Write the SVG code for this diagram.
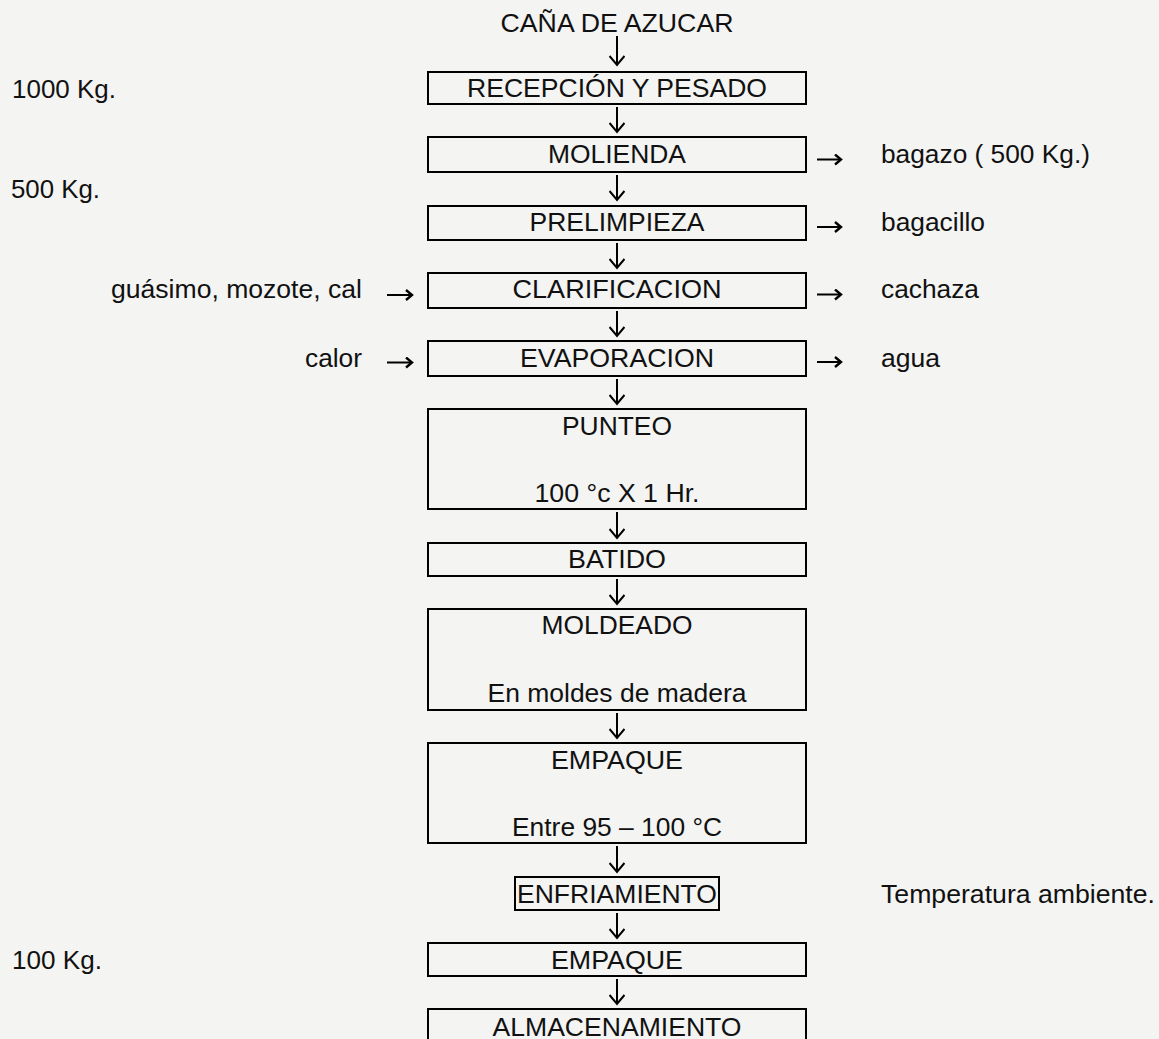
<svg xmlns="http://www.w3.org/2000/svg" width="1159" height="1039" viewBox="0 0 1159 1039">
<defs>
<style>
.box{fill:none;stroke:#000;stroke-width:2}
.t{font-family:"Liberation Sans",Arial,sans-serif;font-size:25.5px;fill:#111}
.c{text-anchor:middle}
.l{font-family:"Liberation Sans",Arial,sans-serif;font-size:26px;fill:#111}
.ar{fill:none;stroke:#000;stroke-width:2;marker-end:url(#ah)}
.ars{fill:none;stroke:#000;stroke-width:2;marker-end:url(#ahs)}
</style>
<marker id="ah" viewBox="0 0 16 16" refX="14" refY="8" markerWidth="16" markerHeight="16" markerUnits="userSpaceOnUse" orient="auto">
<path d="M5,0.5 L14,8 L5,15.5" fill="none" stroke="#000" stroke-width="2"/>
</marker>
<marker id="ahs" viewBox="0 0 12 12" refX="10" refY="6" markerWidth="12" markerHeight="12" markerUnits="userSpaceOnUse" orient="auto">
<path d="M4,1 L10,6 L4,11" fill="none" stroke="#000" stroke-width="2.4"/>
</marker>
</defs>
<rect width="1159" height="1039" fill="#f4f4f3"/>

<g id="input">
<text class="t c" x="617" y="32" textLength="233" lengthAdjust="spacingAndGlyphs">CAÑA DE AZUCAR</text>
</g>
<g id="recepcion">
<rect class="box" x="428" y="72" width="378" height="32"/>
<text class="t c" x="617" y="96.5" textLength="300" lengthAdjust="spacingAndGlyphs">RECEPCIÓN Y PESADO</text>
</g>
<g id="molienda">
<rect class="box" x="428" y="137" width="378" height="35"/>
<text class="t c" x="617" y="163.3" textLength="138" lengthAdjust="spacingAndGlyphs">MOLIENDA</text>
</g>
<g id="prelimpieza">
<rect class="box" x="428" y="206" width="378" height="34"/>
<text class="t c" x="617" y="230.7" textLength="175" lengthAdjust="spacingAndGlyphs">PRELIMPIEZA</text>
</g>
<g id="clarificacion">
<rect class="box" x="428" y="273" width="378" height="35"/>
<text class="t c" x="617" y="298.3" textLength="209" lengthAdjust="spacingAndGlyphs">CLARIFICACION</text>
</g>
<g id="evaporacion">
<rect class="box" x="428" y="341" width="378" height="35"/>
<text class="t c" x="617" y="366.7" textLength="194" lengthAdjust="spacingAndGlyphs">EVAPORACION</text>
</g>
<g id="punteo">
<rect class="box" x="428" y="409" width="378" height="100"/>
<text class="t c" x="617" y="435" textLength="110" lengthAdjust="spacingAndGlyphs">PUNTEO</text>
<text class="t c" x="617" y="501.5" textLength="165" lengthAdjust="spacingAndGlyphs">100 °c X 1 Hr.</text>
</g>
<g id="batido">
<rect class="box" x="428" y="543" width="378" height="33"/>
<text class="t c" x="617" y="568.3" textLength="98" lengthAdjust="spacingAndGlyphs">BATIDO</text>
</g>
<g id="moldeado">
<rect class="box" x="428" y="609" width="378" height="101"/>
<text class="t c" x="617" y="634.3" textLength="151" lengthAdjust="spacingAndGlyphs">MOLDEADO</text>
<text class="t c" x="617" y="702.3" textLength="259" lengthAdjust="spacingAndGlyphs">En moldes de madera</text>
</g>
<g id="empaque1">
<rect class="box" x="428" y="743" width="378" height="100"/>
<text class="t c" x="617" y="768.5" textLength="132" lengthAdjust="spacingAndGlyphs">EMPAQUE</text>
<text class="t c" x="617" y="836" textLength="210" lengthAdjust="spacingAndGlyphs">Entre 95 – 100 °C</text>
</g>
<g id="enfriamiento">
<rect class="box" x="515" y="877" width="204" height="33"/>
<text class="t c" x="617" y="902.7" textLength="200" lengthAdjust="spacingAndGlyphs">ENFRIAMIENTO</text>
</g>
<g id="empaque2">
<rect class="box" x="428" y="943" width="378" height="33"/>
<text class="t c" x="617" y="969" textLength="132" lengthAdjust="spacingAndGlyphs">EMPAQUE</text>
</g>
<g id="almacenamiento">
<rect class="box" x="428" y="1009" width="378" height="45"/>
<text class="t c" x="617" y="1036" textLength="249" lengthAdjust="spacingAndGlyphs">ALMACENAMIENTO</text>
</g>

<g id="labels">
<text class="l" x="12" y="97.5" textLength="104" lengthAdjust="spacingAndGlyphs">1000 Kg.</text>
<text class="l" x="11" y="197.7" textLength="89" lengthAdjust="spacingAndGlyphs">500 Kg.</text>
<text class="l" x="12" y="969" textLength="90" lengthAdjust="spacingAndGlyphs">100 Kg.</text>
<text class="t" x="111" y="298.3" textLength="251" lengthAdjust="spacingAndGlyphs">guásimo, mozote, cal</text>
<text class="t" x="305" y="366.7" textLength="57" lengthAdjust="spacingAndGlyphs">calor</text>
<text class="t" x="881" y="163.3" textLength="209" lengthAdjust="spacingAndGlyphs">bagazo ( 500 Kg.)</text>
<text class="t" x="881" y="230.7" textLength="104" lengthAdjust="spacingAndGlyphs">bagacillo</text>
<text class="t" x="881" y="298.3" textLength="98" lengthAdjust="spacingAndGlyphs">cachaza</text>
<text class="t" x="881" y="366.7" textLength="59" lengthAdjust="spacingAndGlyphs">agua</text>
<text class="t" x="881" y="902.7" textLength="274" lengthAdjust="spacingAndGlyphs">Temperatura ambiente.</text>
</g>

<g id="connectors">
<path class="ar" d="M617,36 V65"/>
<path class="ar" d="M617,107 V132"/>
<path class="ar" d="M617,175 V200"/>
<path class="ar" d="M617,243 V268"/>
<path class="ar" d="M617,311 V336"/>
<path class="ar" d="M617,379 V404"/>
<path class="ar" d="M617,512 V538"/>
<path class="ar" d="M617,579 V604"/>
<path class="ar" d="M617,713 V738"/>
<path class="ar" d="M617,846 V872"/>
<path class="ar" d="M617,913 V938"/>
<path class="ar" d="M617,979 V1004"/>
<path class="ars" d="M817,159.5 H841"/>
<path class="ars" d="M817,227 H841"/>
<path class="ars" d="M817,294.5 H841"/>
<path class="ars" d="M817,362 H841"/>
<path class="ars" d="M387,295 H412"/>
<path class="ars" d="M387,362.5 H412"/>
</g>
</svg>
